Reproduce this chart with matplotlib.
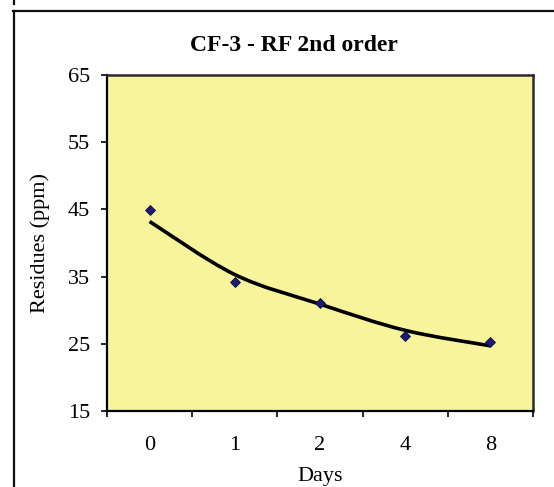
import numpy as np
import matplotlib
matplotlib.use("Agg")
import matplotlib.pyplot as plt
from matplotlib.path import Path
from matplotlib.patches import PathPatch
from matplotlib.lines import Line2D

# %% data
days = ["0", "1", "2", "4", "8"]
residues = [44.9, 34.2, 31.1, 26.1, 25.2]  # measured points
fitted = [43.2, 35.3, 30.9, 27.0, 24.7]  # 2nd order fit, drawn smoothed
y_ticks = [15, 25, 35, 45, 55, 65]

plt.rcParams["font.family"] = ["Liberation Serif", "DejaVu Serif"]

W, H = 554, 487
fig = plt.figure(figsize=(W / 100, H / 100), dpi=100)
fig.patch.set_facecolor("white")

# plot area in pixels: x 107-533, y 75-411
ax = fig.add_axes([107 / W, 1 - 411 / H, 426 / W, 336 / H])
ax.set_facecolor("#F8F49C")

x = np.arange(len(days))

# smoothed line through fitted values (Excel style bezier)
pts = np.column_stack([x, fitted]).astype(float)
ext = np.vstack([pts[0], pts, pts[-1]])
verts = [tuple(pts[0])]
codes = [Path.MOVETO]
for i in range(len(pts) - 1):
    p0, p1, p2, p3 = ext[i], ext[i + 1], ext[i + 2], ext[i + 3]
    c1 = p1 + (p2 - p0) / 6
    c2 = p2 - (p3 - p1) / 6
    verts += [tuple(c1), tuple(c2), tuple(p2)]
    codes += [Path.CURVE4] * 3
ax.add_patch(
    PathPatch(Path(verts, codes), facecolor="none", edgecolor="black",
              lw=2.6, zorder=3, capstyle="butt")
)

ax.plot(x, residues, linestyle="none", marker="D", markersize=5.5,
        markerfacecolor="#1c1c78", markeredgecolor="#0a0a40",
        markeredgewidth=0.6, zorder=4)

ax.set_xlim(-0.5, len(days) - 0.5)
ax.set_ylim(15, 65)
ax.set_yticks(y_ticks)
ax.set_yticklabels([str(v) for v in y_ticks])

# category axis: ticks between categories, labels centred
ax.set_xticks(np.arange(-0.5, len(days), 1.0))
ax.set_xticklabels([])
ax.set_xticks(x, minor=True)
ax.set_xticklabels(days, minor=True)
ax.tick_params(axis="x", which="major", direction="out", length=4, width=1.2,
               color="black")
ax.tick_params(axis="x", which="minor", length=0, pad=18, labelsize=16)
ax.tick_params(axis="y", direction="out", length=4.3, width=1.2, pad=8,
               labelsize=16, color="black")

for side in ["left", "bottom"]:
    ax.spines[side].set_linewidth(1.6)
    ax.spines[side].set_color("black")
for side in ["top", "right"]:
    ax.spines[side].set_linewidth(1.8)
    ax.spines[side].set_color("#2a2a2a")

fig.text(293.5 / W, 1 - 45.5 / H, "CF-3 - RF 2nd order", ha="center",
         va="center", fontsize=17, fontweight="bold")
fig.text(320 / W, 1 - 476 / H, "Days", ha="center", va="center", fontsize=16)
fig.text(40 / W, 1 - 243 / H, "Residues (ppm)", ha="center", va="center",
         rotation=90, fontsize=16)

# chart area frame (continues off the right and bottom edges)
fig.add_artist(Line2D([14 / W, 14 / W], [0, 1 - 11 / H], color="#111111",
                      lw=1.6, transform=fig.transFigure))
fig.add_artist(Line2D([13 / W, 1], [1 - 11 / H, 1 - 11 / H], color="#111111",
                      lw=1.6, transform=fig.transFigure))
fig.add_artist(Line2D([14 / W, 14 / W], [1 - 3.5 / H, 1], color="#111111",
                      lw=1.6, transform=fig.transFigure))

plt.savefig("out.png", dpi=100)
